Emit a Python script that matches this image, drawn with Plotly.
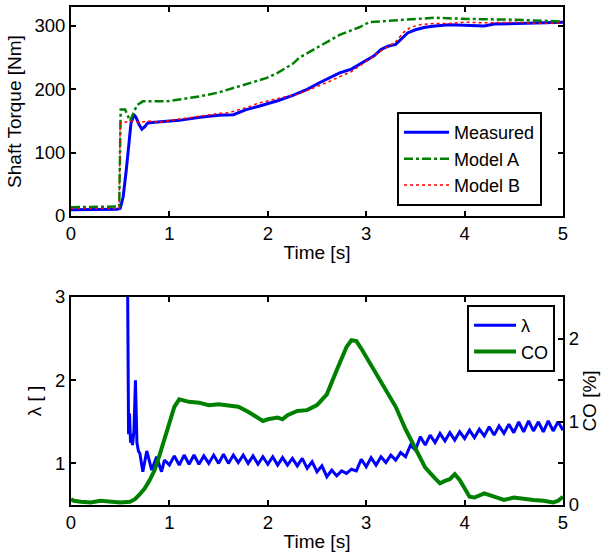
import plotly.graph_objects as go

# ---- top panel: shaft torque ----
t_meas = [0, 0.47, 0.50, 0.53, 0.56, 0.58, 0.61, 0.64, 0.66, 0.69, 0.72, 0.75, 0.78, 0.85, 0.97, 1.1, 1.31, 1.5,
          1.65, 1.72, 1.78, 1.9, 1.99, 2.1, 2.26, 2.4, 2.52, 2.62, 2.73, 2.85, 3.0, 3.08, 3.15, 3.22, 3.3, 3.35,
          3.42, 3.5, 3.6, 3.7, 3.84, 4.0, 4.1, 4.2, 4.3, 4.5, 4.7, 5.0]
torque_meas = [10, 10.5, 12, 30, 70, 104, 147, 160, 156, 145, 137, 141, 147, 148, 149, 151, 156, 159,
               160, 164, 168, 173, 177, 182, 191, 200, 210, 218, 226, 232, 245, 253, 263, 268, 271, 278,
               289, 294, 298, 300, 302, 301, 300, 300, 303, 304, 305, 306]

t_a = [0, 0.49, 0.505, 0.55, 0.6, 0.63, 0.67, 0.73, 0.85, 0.97, 1.1, 1.31, 1.5, 1.65, 1.8, 1.99, 2.1, 2.26,
       2.32, 2.42, 2.52, 2.62, 2.73, 2.83, 2.93, 3.03, 3.1, 3.2, 3.4, 3.7, 4.05, 4.5, 5.0]
torque_a = [14, 15, 168, 168, 150, 162, 175, 181, 181, 181, 184, 189, 195, 202, 208, 218, 226, 241,
            250, 259, 268, 277, 286, 292, 298, 306, 307, 308, 310, 313, 311, 310, 307]

t_b = [0, 0.49, 0.5, 0.55, 0.62, 0.7, 0.8, 0.9, 1.0, 1.1, 1.2, 1.31, 1.4, 1.5, 1.6, 1.7, 1.8, 1.9, 2.0,
       2.1, 2.2, 2.3, 2.4, 2.52, 2.62, 2.73, 2.85, 3.0, 3.1, 3.2, 3.3, 3.38, 3.45, 3.55, 3.7, 3.85, 4.0,
       4.2, 4.5, 4.8, 5.0]
torque_b = [12, 12, 147, 148, 150, 148, 150, 148, 151, 153, 155, 158, 160, 162, 163, 167, 172, 178, 182,
            186, 189, 192, 198, 205, 212, 220, 228, 244, 255, 266, 275, 290, 298, 302, 304, 304, 306,
            305, 306, 304, 305]

# ---- bottom panel: lambda and CO ----
t_lam = [0.575, 0.585, 0.595, 0.605, 0.615, 0.625, 0.64, 0.655, 0.67, 0.685, 0.70, 0.73, 0.77, 0.82, 0.87,
         0.92, 0.95,
         1.00, 1.05, 1.10, 1.15, 1.20, 1.25, 1.30, 1.35, 1.40, 1.45, 1.50, 1.55, 1.60, 1.65, 1.70, 1.75,
         1.80, 1.85, 1.90, 1.95, 2.00, 2.05, 2.10, 2.15, 2.20, 2.25, 2.30, 2.35, 2.40, 2.45, 2.50, 2.55,
         2.60, 2.65, 2.70, 2.75, 2.80, 2.85, 2.90, 2.95, 3.00, 3.05, 3.10, 3.15, 3.20, 3.25, 3.30, 3.35,
         3.40, 3.45, 3.50, 3.55, 3.60, 3.65, 3.70, 3.75, 3.80, 3.85, 3.90, 3.95, 4.00, 4.05, 4.10, 4.15,
         4.20, 4.25, 4.30, 4.35, 4.40, 4.45, 4.50, 4.55, 4.60, 4.65, 4.70, 4.75, 4.80, 4.85, 4.90, 4.95, 5.00]
lam = [3.2, 1.35, 1.6, 1.25, 1.35, 1.22, 1.4, 2.0, 1.25, 1.15, 1.12, 0.9, 1.15, 0.92, 1.08,
       0.9, 1.04,
       0.98, 1.09, 0.98, 1.10, 0.99, 1.10, 0.99, 1.09, 1.00, 1.10, 1.00, 1.11, 1.00, 1.10, 1.01, 1.10,
       1.00, 1.09, 0.99, 1.08, 0.99, 1.08, 0.98, 1.07, 0.98, 1.06, 0.97, 1.06, 0.94, 1.02, 0.90, 0.97,
       0.84, 0.92, 0.85, 0.91, 0.88, 0.93, 0.91, 1.05, 0.96, 1.07, 0.98, 1.08, 1.01, 1.10, 1.04, 1.13,
       1.08, 1.22, 1.16, 1.32, 1.22, 1.34, 1.25, 1.36, 1.27, 1.37, 1.28, 1.38, 1.30, 1.40, 1.31, 1.41,
       1.33, 1.44, 1.34, 1.45, 1.36, 1.47, 1.37, 1.50, 1.38, 1.51, 1.39, 1.50, 1.38, 1.51, 1.39, 1.50, 1.40]

t_co = [0.00, 0.03, 0.1, 0.2, 0.3, 0.4, 0.5, 0.6, 0.65, 0.7, 0.75, 0.8, 0.85, 0.9, 0.95, 1.0, 1.05, 1.1,
        1.15, 1.2, 1.3, 1.4, 1.5, 1.6, 1.7, 1.8, 1.9, 1.95, 2.0, 2.1, 2.15, 2.2, 2.3, 2.4, 2.5, 2.6, 2.7,
        2.8, 2.85, 2.9, 2.95, 3.0, 3.1, 3.2, 3.3, 3.4, 3.5, 3.6, 3.7, 3.75, 3.8, 3.85, 3.9, 3.95, 4.0,
        4.05, 4.1, 4.2, 4.3, 4.4, 4.5, 4.6, 4.7, 4.8, 4.9, 4.95, 5.0]
co = [0.07, 0.05, 0.04, 0.03, 0.05, 0.04, 0.03, 0.04, 0.07, 0.13, 0.2, 0.3, 0.42, 0.6, 0.8, 1.0, 1.18, 1.27,
      1.25, 1.24, 1.23, 1.2, 1.21, 1.19, 1.18, 1.12, 1.04, 1.01, 1.03, 1.05, 1.03, 1.08, 1.13, 1.14, 1.2, 1.33, 1.62,
      1.9, 1.98, 1.97, 1.88, 1.78, 1.58, 1.4, 1.18, 0.91, 0.67, 0.45, 0.32, 0.26, 0.29, 0.31, 0.37, 0.3, 0.2,
      0.1, 0.09, 0.14, 0.1, 0.06, 0.09, 0.07, 0.06, 0.05, 0.03, 0.05, 0.1]

x_ticks = [0, 1, 2, 3, 4, 5]
torque_ticks = [0, 100, 200, 300]
lam_ticks = [1, 2, 3]
co_ticks = [0, 0.5, 1, 1.5, 2, 2.5]
co_ticktext = ["0", "", "1", "", "2", ""]

BLUE = "#0000FF"
GREEN = "#008000"
RED = "#FF0000"
FONT = "Liberation Sans, Arial, Helvetica, sans-serif"
TICK_SIZE = 18.5
TEXT_SIZE = 19
LEGEND_SIZE = 18

fig = go.Figure()
fig.add_trace(go.Scatter(x=t_meas, y=torque_meas, name="Measured", mode="lines",
                         line=dict(color=BLUE, width=3), xaxis="x", yaxis="y", legend="legend"))
fig.add_trace(go.Scatter(x=t_a, y=torque_a, name="Model A", mode="lines",
                         line=dict(color=GREEN, width=2.5, dash="dashdot"), xaxis="x", yaxis="y", legend="legend"))
fig.add_trace(go.Scatter(x=t_b, y=torque_b, name="Model B", mode="lines",
                         line=dict(color=RED, width=1.5, dash="dot"), xaxis="x", yaxis="y", legend="legend"))

fig.add_trace(go.Scatter(x=t_lam, y=lam, name="λ", mode="lines",
                         line=dict(color=BLUE, width=3), xaxis="x2", yaxis="y3", legend="legend2"))
fig.add_trace(go.Scatter(x=t_co, y=co, name="CO", mode="lines",
                         line=dict(color=GREEN, width=4), xaxis="x2", yaxis="y4", legend="legend2"))

ax_common = dict(showline=True, linecolor="black", linewidth=2, ticks="inside", ticklen=5, tickwidth=2,
                 tickcolor="black", showgrid=False, zeroline=False, automargin=False,
                 tickfont=dict(size=TICK_SIZE, color="black", family=FONT))
title_font = dict(size=TEXT_SIZE, color="black", family=FONT)
legend_font = dict(size=LEGEND_SIZE, color="black", family=FONT)

top_dom = [0.5803, 1.0]
bot_dom = [0.0, 0.4177]

fig.update_layout(
    width=602, height=557,
    margin=dict(l=71, r=39, t=7, b=52),
    paper_bgcolor="white", plot_bgcolor="white",
    font=dict(family=FONT, size=TEXT_SIZE, color="black"),
    xaxis=dict(domain=[0, 1], anchor="y", range=[0, 5], tickvals=x_ticks, mirror="ticks",
               title=dict(text="Time [s]", font=title_font, standoff=2), **ax_common),
    yaxis=dict(domain=top_dom, anchor="x", range=[0, 330], tickvals=torque_ticks, mirror="ticks",
               title=dict(text="Shaft Torque [Nm]", font=title_font, standoff=8), **ax_common),
    xaxis2=dict(domain=[0, 1], anchor="y3", range=[0, 5], tickvals=x_ticks, mirror="ticks",
                title=dict(text="Time [s]", font=title_font, standoff=2), **ax_common),
    yaxis3=dict(domain=bot_dom, anchor="x2", range=[0.5, 3], tickvals=lam_ticks, mirror=True,
                title=dict(text="λ [ ]", font=title_font, standoff=8), **ax_common),
    yaxis4=dict(domain=bot_dom, anchor="x2", overlaying="y3", side="right", range=[0, 2.5],
                tickvals=co_ticks, ticktext=co_ticktext,
                title=dict(text="CO [%]", font=title_font, standoff=3), **ax_common),
    legend=dict(x=0.6626, y=0.789, xanchor="left", yanchor="top", bgcolor="white",
                bordercolor="black", borderwidth=2, font=legend_font,
                tracegroupgap=0, itemwidth=45),
    legend2=dict(x=0.805, y=0.4016, xanchor="left", yanchor="top", bgcolor="white",
                 bordercolor="black", borderwidth=2, font=legend_font,
                 tracegroupgap=0, itemwidth=42),
)

fig.write_html("out.html", config={"displayModeBar": False},
               post_script="document.body.style.margin='0';")
